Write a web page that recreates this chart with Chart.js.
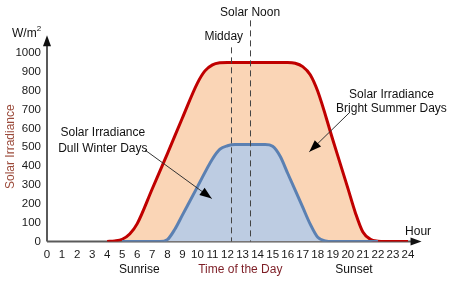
<!DOCTYPE html>
<html>
<head>
<meta charset="utf-8">
<script src="https://cdn.jsdelivr.net/npm/chart.js@4/dist/chart.umd.min.js"></script>
<style>
  html, body { margin: 0; padding: 0; background: #fff; }
  #wrap { width: 453px; height: 284px; }
</style>
</head>
<body>
<div id="wrap"><canvas id="sunCanvas"></canvas></div>
<script>
// hour ticks and irradiance ticks
var hourTicks = [0, 24, 1];
var wattTicks = [0, 1000, 100];

// bright summer day (red)
var summerHours = [4, 4.5, 5, 5.5, 6, 7, 8, 9, 10, 10.5, 11, 11.5, 12, 16, 16.5, 17, 17.5, 18, 19, 20, 20.5, 21, 21.5, 22, 22.5, 24];
var summerWatts = [0, 3, 12, 40, 95, 280, 465, 655, 840, 905, 937, 948, 950, 950, 946, 928, 885, 797, 540, 283, 153, 50, 12, 2, 0, 0];

// dull winter day (blue)
var winterHours = [5, 7.5, 8, 8.5, 9, 10, 11, 11.5, 12, 12.5, 14.5, 15, 15.5, 16, 17, 17.5, 18, 18.5, 19, 22];
var winterWatts = [0, 0, 10, 65, 140, 290, 438, 490, 508, 514, 514, 505, 452, 362, 182, 92, 22, 3, 0, 0];

var middayHour = 12.25;
var solarNoonHour = 13.5;

function toPoints(xs, ys) {
    return xs.map(function (x, i) { return { x: x, y: ys[i] }; });
}

Chart.defaults.font.family = '"Liberation Sans", Arial, sans-serif';
Chart.defaults.color = '#1a1a1a';

function arrowHead(ctx, x1, y1, x2, y2, len, half) {
    var a = Math.atan2(y2 - y1, x2 - x1);
    ctx.beginPath();
    ctx.moveTo(x2, y2);
    ctx.lineTo(x2 - len * Math.cos(a) + half * Math.sin(a), y2 - len * Math.sin(a) - half * Math.cos(a));
    ctx.lineTo(x2 - len * Math.cos(a) - half * Math.sin(a), y2 - len * Math.sin(a) + half * Math.cos(a));
    ctx.closePath();
    ctx.fill();
}

// axes with arrows, drawn under the curves
var axesPlugin = {
    id: 'axesArrows',
    beforeDatasetsDraw: function (chart) {
        var ctx = chart.ctx, xs = chart.scales.x, ys = chart.scales.y;
        var x0 = xs.getPixelForValue(0), y0 = ys.getPixelForValue(0);
        var yTip = ys.getPixelForValue(1094), xTip = xs.getPixelForValue(24.9);
        ctx.save();
        ctx.strokeStyle = '#5a5a5a';
        ctx.fillStyle = '#111';
        ctx.lineWidth = 2;
        ctx.beginPath();
        ctx.moveTo(x0, y0); ctx.lineTo(x0, yTip + 6);
        ctx.moveTo(x0, y0); ctx.lineTo(xTip - 6, y0);
        ctx.stroke();
        arrowHead(ctx, x0, y0, x0, yTip, 11, 4);
        arrowHead(ctx, x0, y0, xTip, y0, 11, 4);
        ctx.restore();
    }
};

// dashed markers, labels and pointer arrows on top
var notesPlugin = {
    id: 'notes',
    afterDatasetsDraw: function (chart) {
        var ctx = chart.ctx, xs = chart.scales.x, ys = chart.scales.y;
        function px(h) { return xs.getPixelForValue(h); }
        function py(v) { return ys.getPixelForValue(v); }
        var bottom = py(0);
        var font12 = '12px "Liberation Sans", Arial, sans-serif';
        ctx.save();

        ctx.strokeStyle = '#444';
        ctx.lineWidth = 1;
        ctx.setLineDash([6, 4]);
        ctx.beginPath();
        ctx.moveTo(Math.round(px(middayHour)) + 0.5, py(1030));
        ctx.lineTo(Math.round(px(middayHour)) + 0.5, bottom);
        ctx.moveTo(Math.round(px(solarNoonHour)) + 0.5, py(1173));
        ctx.lineTo(Math.round(px(solarNoonHour)) + 0.5, bottom);
        ctx.stroke();
        ctx.setLineDash([]);

        // pointer arrows
        ctx.strokeStyle = '#333';
        ctx.fillStyle = '#000';
        var w1 = [px(6.52), py(485)], w2 = [px(10.95), py(228)];
        var s1 = [px(20.15), py(687)], s2 = [px(17.44), py(476)];
        ctx.beginPath();
        ctx.moveTo(w1[0], w1[1]); ctx.lineTo(w2[0], w2[1]);
        ctx.moveTo(s1[0], s1[1]); ctx.lineTo(s2[0], s2[1]);
        ctx.stroke();
        arrowHead(ctx, w1[0], w1[1], w2[0], w2[1], 12, 4.5);
        arrowHead(ctx, s1[0], s1[1], s2[0], s2[1], 12, 4.5);

        ctx.font = font12;
        ctx.textAlign = 'center';
        ctx.textBaseline = 'middle';
        ctx.fillStyle = '#111';
        ctx.fillText('Solar Noon', px(13.5), py(1215));
        ctx.fillText('Midday', px(11.75), py(1086));
        ctx.fillText('Solar Irradiance', px(3.71), py(577));
        ctx.fillText('Dull Winter Days', px(3.71), py(495));
        ctx.fillText('Solar Irradiance', px(22.9), py(780));
        ctx.fillText('Bright Summer Days', px(22.9), py(705));
        ctx.fillText('Hour', px(24.67), py(50));
        ctx.fillText('Sunrise', px(6.14), py(-151));
        ctx.fillText('Sunset', px(20.41), py(-151));

        // unit label with superscript
        ctx.textAlign = 'left';
        ctx.fillText('W/m', 12, py(1103));
        var wm = 12 + ctx.measureText('W/m').width;
        ctx.font = '8px "Liberation Sans", Arial, sans-serif';
        ctx.fillText('2', wm, py(1103) - 5);

        ctx.font = font12;
        ctx.textAlign = 'center';
        ctx.fillStyle = '#7d1d25';
        ctx.fillText('Time of the Day', px(12.85), py(-151));
        ctx.fillStyle = '#9b4a3a';
        ctx.translate(11, py(503));
        ctx.rotate(-Math.PI / 2);
        ctx.fillText('Solar Irradiance', 0, 0);
        ctx.restore();
    }
};

var ctx = document.getElementById('sunCanvas');
var sunChart = new Chart(ctx, {
    type: 'line',
    data: {
        datasets: [
            {
                label: 'Bright Summer Days',
                data: toPoints(summerHours, summerWatts),
                order: 2,
                borderColor: '#c00000',
                backgroundColor: '#fad5b6',
                borderWidth: 3,
                fill: 'origin',
                pointRadius: 0,
                cubicInterpolationMode: 'monotone'
            },
            {
                label: 'Dull Winter Days',
                data: toPoints(winterHours, winterWatts),
                order: 1,
                borderColor: '#5b80b2',
                backgroundColor: '#bdcce2',
                borderWidth: 3,
                fill: 'origin',
                pointRadius: 0,
                cubicInterpolationMode: 'monotone'
            }
        ]
    },
    options: {
        responsive: true,
        maintainAspectRatio: false,
        animation: false,
        layout: { padding: { top: 53, right: 45, left: 0, bottom: 0 } },
        plugins: { legend: { display: false }, tooltip: { enabled: false } },
        scales: {
            x: {
                type: 'linear',
                min: hourTicks[0],
                max: hourTicks[1],
                grid: { display: false, drawTicks: false },
                border: { display: false },
                ticks: { stepSize: hourTicks[2], padding: 6, font: { size: 11.5 }, color: '#1a1a1a', maxRotation: 0, autoSkip: false },
                afterFit: function (scale) { scale.height = 42.5; }
            },
            y: {
                min: wattTicks[0],
                max: wattTicks[1],
                grid: { display: false, drawTicks: false },
                border: { display: false },
                ticks: {
                    stepSize: wattTicks[2], padding: 6, font: { size: 11.5 }, color: '#1a1a1a',
                    callback: function (v) { return String(v); }
                },
                afterFit: function (scale) { scale.width = 47; }
            }
        }
    },
    plugins: [axesPlugin, notesPlugin]
});
</script>
</body>
</html>
